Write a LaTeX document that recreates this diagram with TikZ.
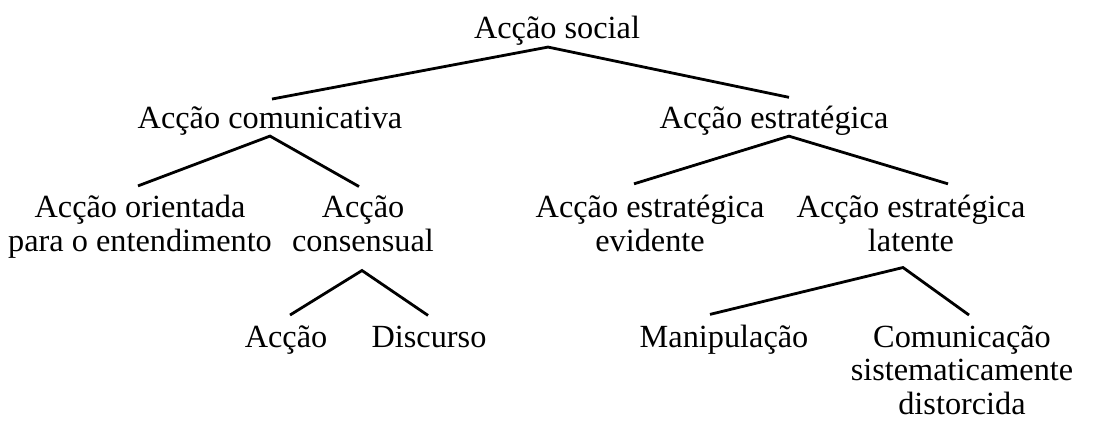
\documentclass[tikz,border=0pt]{standalone}
\usepackage{fontspec}
\setmainfont{Liberation Serif}
\usepackage{tikz}

\begin{document}
\begin{tikzpicture}[
    x=1pt, y=-1pt,
    every node/.style={font=\fontsize{32.3}{33.5}\selectfont, align=center, inner sep=0pt, anchor=base},
    branch/.style={line width=2.8pt}
]
   \useasboundingbox (0,0) rectangle (1102,428);

   % Levels of the tree (base = last line)
   \node (soc) at (557,38) {Acção social};
   \node (com) at (270,128) {Acção comunicativa};
   \node (est) at (774,128) {Acção estratégica};
   \node (ori) at (140,251) {Acção orientada\\para o entendimento};
   \node (cons) at (363,251) {Acção\\consensual};
   \node (evi) at (650,251) {Acção estratégica\\evidente};
   \node (lat) at (911,251) {Acção estratégica\\latente};
   \node (acc) at (286,347) {Acção};
   \node (dis) at (429,347) {Discurso};
   \node (man) at (724,347) {Manipulação};
   \node (sis) at (962,414) {Comunicação\\sistematicamente\\distorcida};

   % Branches
   \draw[branch] ([xshift=2pt,yshift=7pt]com.north) -- ([xshift=-9pt,yshift=-2pt]soc.south)
                 -- ([xshift=15pt,yshift=8pt]est.north);
   \draw[branch] ([xshift=-2pt,yshift=9pt]ori.north) -- ([yshift=-1pt]com.south)
                 -- ([xshift=-4pt,yshift=9pt]cons.north);
   \draw[branch] ([xshift=-16pt,yshift=11pt]evi.north) -- ([xshift=15pt,yshift=-1pt]est.south)
                 -- ([xshift=37pt,yshift=11pt]lat.north);
   \draw[branch] ([xshift=4pt,yshift=10pt]acc.north) -- ([xshift=-1pt,yshift=-19pt]cons.south)
                 -- ([xshift=-1pt,yshift=10pt]dis.north);
   \draw[branch] ([xshift=-14pt,yshift=10pt]man.north) -- ([xshift=-8pt,yshift=-16pt]lat.south)
                 -- ([xshift=7pt,yshift=10pt]sis.north);
\end{tikzpicture}
\end{document}
